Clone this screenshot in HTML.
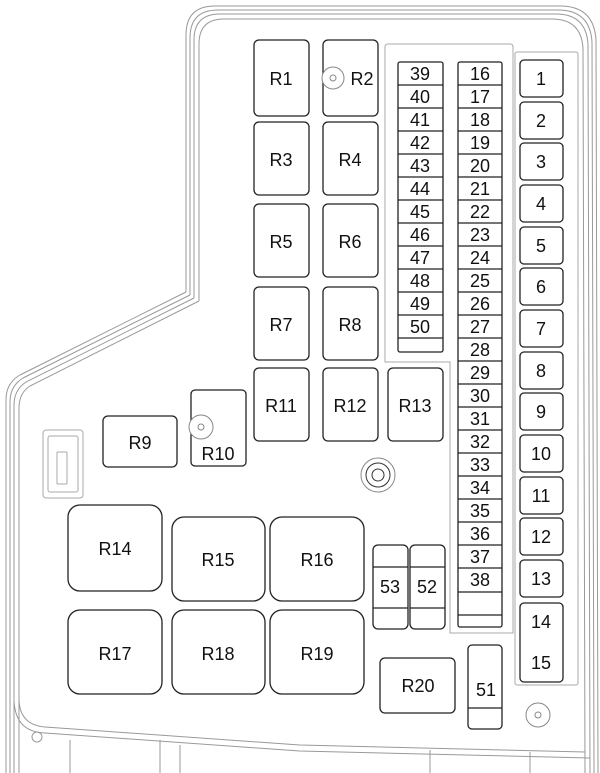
<!DOCTYPE html>
<html><head><meta charset="utf-8"><style>
html,body{margin:0;padding:0;background:#fff;}
svg{display:block;}
text{font-family:"Liberation Sans",sans-serif;fill:#111;text-anchor:middle;dominant-baseline:central;}
</style></head><body>
<svg width="600" height="773" viewBox="0 0 600 773" xmlns="http://www.w3.org/2000/svg">
<g fill="none" stroke="#999" stroke-width="1">
<path d="M186,292 L186,35 Q186,6 215,6 L560,6 Q594,6 596,40 L598,773"/>
<path d="M190,295 L190,38 Q190,10 218,10 L558,10 Q590,10 592,42 L594,773"/>
<path d="M194,298 L194,40 Q194,14 220,14 L556,14 Q586,14 588,44 L590,773"/>
<path d="M199,301 L199,44 Q199,19 224,19 L552,19 Q581,19 583,48 L585,773"/>
<path d="M186,292 L20,375 Q6,383 6,400 L6,773"/>
<path d="M190,295 L23,378 Q10,386 10,402 L10,773"/>
<path d="M194,298 L26,382 Q14,390 14,405 L14,773"/>
<path d="M199,301 L30,386 Q19,393 19,408 L19,773"/>
<path d="M19,700 Q20,725 45,727 L300,745 L585,752"/>
<path d="M14,700 Q15,732 45,733 L300,751 L590,758"/>
<path d="M70,740 L70,773 M160,740 L160,773 M180,745 L180,773 M430,750 L430,773 M530,752 L530,773"/>
<circle cx="37" cy="737" r="5"/>
</g>
<g fill="none" stroke="#aaa">
<path d="M388,44 H510 Q513,44 513,47 V633 H450 V362 H385 V47 Q385,44 388,44 Z"/>
<rect x="515" y="52" width="63" height="633" rx="2"/>
<rect x="43" y="430" width="40" height="68" rx="3"/>
<rect x="48" y="436" width="30" height="56" rx="2"/>
<path d="M57,452 L57,484 M67,452 L67,484 M57,452 L67,452 M57,484 L67,484"/>
</g>
<g fill="#fff" stroke="#222" stroke-width="1.3">
<rect x="254" y="40" width="55" height="76" rx="5"/>
<rect x="323" y="40" width="55" height="76" rx="5"/>
<rect x="254" y="122" width="55" height="73" rx="5"/>
<rect x="323" y="122" width="55" height="73" rx="5"/>
<rect x="254" y="204" width="55" height="73" rx="5"/>
<rect x="323" y="204" width="55" height="73" rx="5"/>
<rect x="254" y="287" width="55" height="73" rx="5"/>
<rect x="323" y="287" width="55" height="73" rx="5"/>
<rect x="254" y="368" width="55" height="73" rx="5"/>
<rect x="323" y="368" width="55" height="73" rx="5"/>
<rect x="388" y="368" width="55" height="73" rx="5"/>
<rect x="103" y="416" width="74" height="51" rx="5"/>
<rect x="191" y="390" width="55" height="76" rx="4"/>
<rect x="68" y="505" width="94" height="86" rx="12"/>
<rect x="172" y="517" width="93" height="84" rx="12"/>
<rect x="270" y="517" width="94" height="84" rx="12"/>
<rect x="68" y="610" width="94" height="84" rx="12"/>
<rect x="172" y="610" width="93" height="84" rx="12"/>
<rect x="270" y="610" width="94" height="84" rx="12"/>
<rect x="373" y="545" width="35" height="84" rx="5"/>
<rect x="410" y="545" width="35" height="84" rx="5"/>
<path d="M373,567 L408,567 M373,608 L408,608 M410,567 L445,567 M410,608 L445,608"/>
<rect x="380" y="658" width="75" height="55" rx="5"/>
<rect x="468" y="645" width="34" height="84" rx="4"/>
<path d="M468,708 L502,708"/>
<rect x="398" y="62" width="45" height="290" rx="2"/>
<rect x="458" y="62" width="44" height="565" rx="2"/>
</g>
<g stroke="#222" stroke-width="1.3">
<path d="M398,85 H443 M398,108 H443 M398,131 H443 M398,154 H443 M398,177 H443 M398,200 H443 M398,223 H443 M398,246 H443 M398,269 H443 M398,292 H443 M398,315 H443 M398,338 H443"/>
<path d="M458,85 H502 M458,108 H502 M458,131 H502 M458,154 H502 M458,177 H502 M458,200 H502 M458,223 H502 M458,246 H502 M458,269 H502 M458,292 H502 M458,315 H502 M458,338 H502 M458,361 H502 M458,384 H502 M458,407 H502 M458,430 H502 M458,453 H502 M458,476 H502 M458,499 H502 M458,522 H502 M458,545 H502 M458,568 H502 M458,592 H502 M458,615 H502"/>
</g>
<g fill="#fff" stroke="#222" stroke-width="1.3">
<rect x="520" y="60" width="43" height="37" rx="4"/>
<rect x="520" y="102" width="43" height="37" rx="4"/>
<rect x="520" y="143" width="43" height="37" rx="4"/>
<rect x="520" y="185" width="43" height="37" rx="4"/>
<rect x="520" y="227" width="43" height="37" rx="4"/>
<rect x="520" y="268" width="43" height="37" rx="4"/>
<rect x="520" y="310" width="43" height="37" rx="4"/>
<rect x="520" y="352" width="43" height="37" rx="4"/>
<rect x="520" y="393" width="43" height="37" rx="4"/>
<rect x="520" y="435" width="43" height="37" rx="4"/>
<rect x="520" y="477" width="43" height="37" rx="4"/>
<rect x="520" y="518" width="43" height="37" rx="4"/>
<rect x="520" y="560" width="43" height="37" rx="4"/>
<rect x="520" y="603" width="43" height="79" rx="4"/>
</g>
<g fill="none" stroke="#888">
<circle cx="333" cy="78" r="11" fill="#fff"/><circle cx="333" cy="78" r="3"/>
<circle cx="201" cy="427" r="12" fill="#fff"/><circle cx="201" cy="427" r="3"/>
<circle cx="378" cy="475" r="17"/><circle cx="378" cy="475" r="12" stroke="#333"/><circle cx="378" cy="475" r="6" stroke="#333"/>
<circle cx="538" cy="715" r="12"/><circle cx="538" cy="715" r="3"/>
</g>
<g font-size="18">
<text x="281" y="79">R1</text><text x="362" y="79">R2</text>
<text x="281" y="160">R3</text><text x="350" y="160">R4</text>
<text x="281" y="242">R5</text><text x="350" y="242">R6</text>
<text x="281" y="325">R7</text><text x="350" y="325">R8</text>
<text x="281" y="406">R11</text><text x="350" y="406">R12</text><text x="415" y="406">R13</text>
<text x="140" y="443">R9</text><text x="218" y="454">R10</text>
<text x="115" y="549">R14</text><text x="218" y="560">R15</text><text x="317" y="560">R16</text>
<text x="115" y="654">R17</text><text x="218" y="654">R18</text><text x="317" y="654">R19</text>
<text x="390" y="587">53</text><text x="427" y="587">52</text>
<text x="418" y="686">R20</text><text x="486" y="690">51</text>
</g>
<g font-size="18">
<text x="420" y="74">39</text><text x="420" y="97">40</text><text x="420" y="120">41</text><text x="420" y="143">42</text><text x="420" y="166">43</text><text x="420" y="189">44</text><text x="420" y="212">45</text><text x="420" y="235">46</text><text x="420" y="258">47</text><text x="420" y="281">48</text><text x="420" y="304">49</text><text x="420" y="327">50</text>
<text x="480" y="74">16</text><text x="480" y="97">17</text><text x="480" y="120">18</text><text x="480" y="143">19</text><text x="480" y="166">20</text><text x="480" y="189">21</text><text x="480" y="212">22</text><text x="480" y="235">23</text><text x="480" y="258">24</text><text x="480" y="281">25</text><text x="480" y="304">26</text><text x="480" y="327">27</text><text x="480" y="350">28</text><text x="480" y="373">29</text><text x="480" y="396">30</text><text x="480" y="419">31</text><text x="480" y="442">32</text><text x="480" y="465">33</text><text x="480" y="488">34</text><text x="480" y="511">35</text><text x="480" y="534">36</text><text x="480" y="557">37</text><text x="480" y="580">38</text>
<text x="541" y="79">1</text><text x="541" y="121">2</text><text x="541" y="162">3</text><text x="541" y="204">4</text><text x="541" y="246">5</text><text x="541" y="287">6</text><text x="541" y="329">7</text><text x="541" y="371">8</text><text x="541" y="412">9</text><text x="541" y="454">10</text><text x="541" y="496">11</text><text x="541" y="537">12</text><text x="541" y="579">13</text><text x="541" y="622">14</text><text x="541" y="663">15</text>
</g>
</svg>
</body></html>
